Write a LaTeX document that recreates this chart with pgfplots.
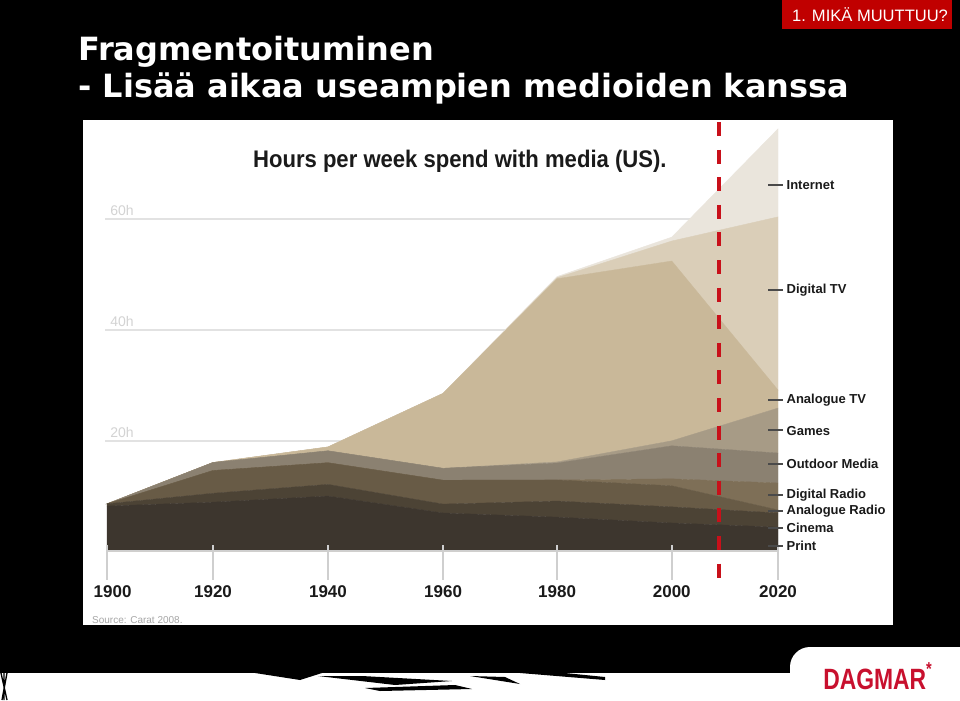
\documentclass[border=0pt]{standalone}
\usepackage{fontspec}
\setmainfont{Liberation Sans}
\newfontfamily\titlefont{DejaVu Sans}
\newfontfamily\condfont{Liberation Sans}[FakeStretch=0.92]
\newfontfamily\logofont{Liberation Sans}[FakeStretch=0.78]
\usepackage{pgfplots}
\pgfplotsset{compat=1.18}
\usepackage{pgfplotstable}

\definecolor{cPrint}{HTML}{3D362E}
\definecolor{cCinema}{HTML}{4C4335}
\definecolor{cARadio}{HTML}{685B46}
\definecolor{cDRadio}{HTML}{7E6F57}
\definecolor{cOutdoor}{HTML}{8B8171}
\definecolor{cGames}{HTML}{A79B86}
\definecolor{cATV}{HTML}{C9B899}
\definecolor{cDTV}{HTML}{DACEB8}
\definecolor{cNet}{HTML}{EAE5DC}
\definecolor{slidered}{HTML}{C00000}
\definecolor{dashred}{HTML}{C8101A}
\definecolor{logored}{HTML}{C8102E}
\definecolor{gridgray}{HTML}{E2E2E2}
\definecolor{hlabel}{HTML}{D3D3D3}
\definecolor{tickgray}{HTML}{CFCFCF}
\definecolor{labelblack}{HTML}{1A1A1A}
\definecolor{leader}{HTML}{4A4A4A}

% xpos = where each year sits on the drawn time axis of the reference
\pgfplotstableread{
year xpos    print cinema aradio dradio outdoor games atv dtv net
1900 1900    8.1  0.4  0    0    0    0    0     0    0
1920 1918.96 8.8  1.6  4.1  0    1.45 0    0     0    0
1940 1939.52 9.9  2.1  3.9  0    2.15 0    0.7   0    0
1960 1960.1  6.85 1.6  4.3  0    2.15 0    13.5  0    0
1980 1980.5  6.1  2.9  3.8  0    3.05 0.2  33.0  0.2  0.2
2000 2001.0  5.05 2.9  3.8  1.25 5.95 0.9  32.4  3.6  0.7
2020 2020    4.3  2.55 0.55 4.85 5.4  8.1  3.25  31.2 15.85
}\media

\begin{document}
\begin{tikzpicture}
\begin{scope}[x=0.75pt,y=-0.75pt]
\fill[black] (0,0) rectangle (960,700);
\fill[white] (83,120) rectangle (893,625);
% slide title
\node[anchor=base west, text=white, inner sep=0, font=\titlefont\bfseries\fontsize{24}{28}\selectfont] at (78,60) {Fragmentoituminen};
\node[anchor=base west, text=white, inner sep=0, font=\titlefont\bfseries\fontsize{24}{28}\selectfont] at (78,97) {- Lisää aikaa useampien medioiden kanssa};
% red tag
\fill[slidered] (782,0) rectangle (952,29);
\node[text=white, inner sep=0, font=\fontsize{12.4}{14}\selectfont] at (870,15) {1. MIKÄ MUUTTUU?};
% bottom strip
\fill[white] (0,673) rectangle (960,700);
\fill[black] (255,673) -- (300,680) -- (322,673) -- cycle;
\fill[black] (318,676) -- (395,685) -- (452,681) -- (362,676) -- cycle;
\fill[black] (365,688) -- (455,685) -- (472,689) -- (380,691) -- cycle;
\fill[black] (470,676) -- (520,684) -- (505,677) -- cycle;
\fill[black] (520,673) -- (605,680) -- (605,677) -- (565,673) -- cycle;
\draw[black, line width=1pt] (1,673) -- (7,700) (7,673) -- (2,700) (4,673) -- (4,700);
\fill[white] (790,700) [rounded corners=15] -- (790,647) [sharp corners] -- (960,647) -- (960,700) -- cycle;
\node[anchor=base west, inner sep=0, text=logored, font=\logofont\bfseries\fontsize{22}{24}\selectfont] at (823,689) {DAGMAR\raisebox{0.45em}{\fontsize{14}{14}\selectfont *}};
% grid lines (behind the areas) and hour labels
\draw[gridgray, line width=1.5pt] (105,441) -- (778,441);
\draw[gridgray, line width=1.5pt] (105,330) -- (778,330);
\draw[gridgray, line width=1.5pt] (105,219) -- (778,219);
\node[anchor=west, inner sep=0, text=hlabel, font=\fontsize{10.5}{12}\selectfont] at (110,210.5) {60h};
\node[anchor=west, inner sep=0, text=hlabel, font=\fontsize{10.5}{12}\selectfont] at (110,321.5) {40h};
\node[anchor=west, inner sep=0, text=hlabel, font=\fontsize{10.5}{12}\selectfont] at (110,432) {20h};
\end{scope}

\begin{axis}[
  at={(80.25pt,-413.25pt)}, anchor=south west,
  scale only axis, width=503.25pt, height=324.675pt,
  xmin=1900, xmax=2020, ymin=0, ymax=78,
  hide axis, clip=false,
  stack plots=y, area style,
]
\addplot[fill=cPrint, draw=cPrint, line width=0.3pt] table[x=xpos, y=print] {\media} \closedcycle;
\addplot[fill=cCinema, draw=cCinema, line width=0.3pt] table[x=xpos, y=cinema] {\media} \closedcycle;
\addplot[fill=cARadio, draw=cARadio, line width=0.3pt] table[x=xpos, y=aradio] {\media} \closedcycle;
\addplot[fill=cDRadio, draw=cDRadio, line width=0.3pt] table[x=xpos, y=dradio] {\media} \closedcycle;
\addplot[fill=cOutdoor, draw=cOutdoor, line width=0.3pt] table[x=xpos, y=outdoor] {\media} \closedcycle;
\addplot[fill=cGames, draw=cGames, line width=0.3pt] table[x=xpos, y=games] {\media} \closedcycle;
\addplot[fill=cATV, draw=cATV, line width=0.3pt] table[x=xpos, y=atv] {\media} \closedcycle;
\addplot[fill=cDTV, draw=cDTV, line width=0.3pt] table[x=xpos, y=dtv] {\media} \closedcycle;
\addplot[fill=cNet, draw=cNet, line width=0.3pt] table[x=xpos, y=net] {\media} \closedcycle;

% year labels
\node[text=labelblack, font=\bfseries\fontsize{12.75}{14}\selectfont] at (axis cs:1901,-7.3) {1900};
\node[text=labelblack, font=\bfseries\fontsize{12.75}{14}\selectfont] at (axis cs:1918.96,-7.3) {1920};
\node[text=labelblack, font=\bfseries\fontsize{12.75}{14}\selectfont] at (axis cs:1939.52,-7.3) {1940};
\node[text=labelblack, font=\bfseries\fontsize{12.75}{14}\selectfont] at (axis cs:1960.1,-7.3) {1960};
\node[text=labelblack, font=\bfseries\fontsize{12.75}{14}\selectfont] at (axis cs:1980.5,-7.3) {1980};
\node[text=labelblack, font=\bfseries\fontsize{12.75}{14}\selectfont] at (axis cs:2001.0,-7.3) {2000};
\node[text=labelblack, font=\bfseries\fontsize{12.75}{14}\selectfont] at (axis cs:2020,-7.3) {2020};

% source
\node[anchor=west, inner sep=0, text=gray!70, font=\fontsize{7.5}{9}\selectfont] at (axis cs:1897.3,-12.4) {Source: Carat 2008.};

% chart title
\node[text=labelblack, font=\condfont\bfseries\fontsize{18}{20}\selectfont] at (axis cs:1963.1,70.3) {Hours per week spend with media (US).};

% series labels
\node[anchor=west, inner sep=0, text=labelblack, font=\bfseries\fontsize{9.75}{11}\selectfont] at (axis cs:2021.5,65.95) {Internet};
\node[anchor=west, inner sep=0, text=labelblack, font=\bfseries\fontsize{9.75}{11}\selectfont] at (axis cs:2021.5,47.0) {Digital TV};
\node[anchor=west, inner sep=0, text=labelblack, font=\bfseries\fontsize{9.75}{11}\selectfont] at (axis cs:2021.5,27.2) {Analogue TV};
\node[anchor=west, inner sep=0, text=labelblack, font=\bfseries\fontsize{9.75}{11}\selectfont] at (axis cs:2021.5,21.7) {Games};
\node[anchor=west, inner sep=0, text=labelblack, font=\bfseries\fontsize{9.75}{11}\selectfont] at (axis cs:2021.5,15.65) {Outdoor Media};
\node[anchor=west, inner sep=0, text=labelblack, font=\bfseries\fontsize{9.75}{11}\selectfont] at (axis cs:2021.5,10.0) {Digital Radio};
\node[anchor=west, inner sep=0, text=labelblack, font=\bfseries\fontsize{9.75}{11}\selectfont] at (axis cs:2021.5,7.2) {Analogue Radio};
\node[anchor=west, inner sep=0, text=labelblack, font=\bfseries\fontsize{9.75}{11}\selectfont] at (axis cs:2021.5,4.1) {Cinema};
\node[anchor=west, inner sep=0, text=labelblack, font=\bfseries\fontsize{9.75}{11}\selectfont] at (axis cs:2021.5,0.9) {Print};
\end{axis}

% overlays drawn on top of the areas
\begin{scope}[x=0.75pt,y=-0.75pt]
\draw[tickgray, line width=1.2pt] (107,550.5) -- (778,550.5);
\foreach \xx in {107,213,328,443,557,672,778}
  \draw[tickgray, line width=1.4pt] (\xx,545) -- (\xx,580);
\foreach \yy in {185,290,400,430,464,495,511,528,546}
  \draw[leader, line width=1.1pt] (768,\yy) -- (783,\yy);
\draw[dashred, line width=3pt, dash pattern=on 10.5pt off 10.2pt] (719,122) -- (719,588);
\end{scope}

\pgfresetboundingbox
\path[use as bounding box] (0,0) rectangle (720pt,-525pt);
\end{tikzpicture}
\end{document}
